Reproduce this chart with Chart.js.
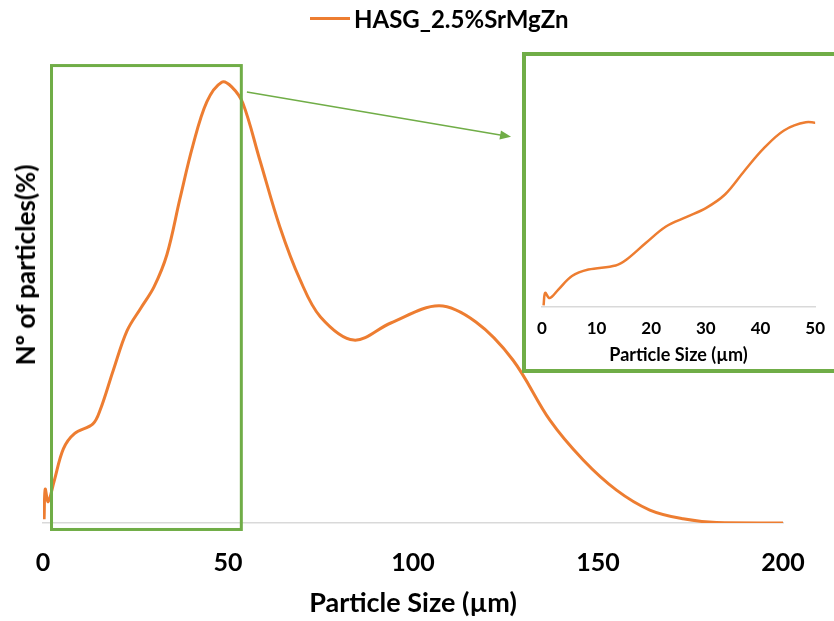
<!DOCTYPE html>
<html>
<head>
<meta charset="utf-8">
<script src="https://cdn.jsdelivr.net/npm/chart.js@4.4.1/dist/chart.umd.min.js"></script>
<style>
  html, body { margin: 0; padding: 0; background: #fff; overflow: hidden; }
  #wrap { position: relative; width: 834px; height: 621px; font-family: Lato, "Open Sans", sans-serif; }
  #main { position: absolute; left: 0; top: 0; }
  #legend { position: absolute; left: 310px; top: 3px; height: 30px; display: flex; align-items: center;
    font-weight: bold; font-size: 24px; color: #000; white-space: nowrap; }
  #legend .swatch { width: 40px; height: 3px; background: #ed7d31; margin-right: 4px; }
  #ytitle { position: absolute; left: 25px; top: 265px; transform: translate(-50%, -50%) rotate(-90deg);
    font-weight: bold; font-size: 26px; color: #000; white-space: nowrap; }
  #insetBox { position: absolute; left: 522px; top: 52px; width: 320px; height: 313px;
    border: 4px solid #70ad47; background: #fff; }
  #inset { position: absolute; left: 0; top: 0; }
</style>
</head>
<body>
<div id="wrap">
  <canvas id="main" width="834" height="621"></canvas>
  <div id="legend"><span class="swatch"></span><span>HASG_2.5%SrMgZn</span></div>
  <div id="ytitle">Nº of particles(%)</div>
  <div id="insetBox"><canvas id="inset" width="310" height="313"></canvas></div>
</div>
<script>
// particle size distribution
const sizes = [0.3, 0.6, 1.4, 3, 5.5, 8.5, 13.5, 15.5, 19, 22.7, 26.5, 30, 33.5, 37, 40.5, 44.3, 48.3, 51, 54, 58.6,
  64, 69.5, 75, 84, 94, 107, 117, 127, 137, 146, 155, 164, 173, 182, 200];
const percents = [0.8, 7.3, 4.6, 9, 16, 19.3, 21.4, 24.5, 33, 41.5, 46.5, 51, 58, 70, 81.5, 91, 95.2, 94.2, 90.7, 78.4,
  64, 52.5, 44.5, 39.5, 43.2, 46.9, 43.4, 35.2, 22.2, 13.6, 7.1, 2.8, 0.9, 0.1, 0];
const seriesName = 'HASG_2.5%SrMgZn';
const mainTicks = [0, 50, 100, 150, 200];
const insetTicks = [0, 10, 20, 30, 40, 50];

const orange = '#ed7d31';
const green = '#70ad47';
const axisFont = { family: 'Lato', weight: 'bold' };

// zoom window (in data units) and the arrow pointing to the inset
const zoomBox = { xFrom: 2.3, xTo: 53.6, yFrom: -1.4, yTo: 98.8 };
const arrow = { x1: 55.1, y1: 93.1, x2: 126.5, y2: 83.4 };

const points = sizes.map((s, i) => ({ x: s, y: percents[i] }));

const zoomMarks = {
    id: 'zoomMarks',
    afterDatasetsDraw(chart) {
        const { ctx, scales: { x, y } } = chart;
        ctx.save();
        ctx.strokeStyle = green;
        ctx.lineWidth = 3;
        const l = x.getPixelForValue(zoomBox.xFrom), r = x.getPixelForValue(zoomBox.xTo);
        const t = y.getPixelForValue(zoomBox.yTo), b = y.getPixelForValue(zoomBox.yFrom);
        ctx.strokeRect(l, t, r - l, b - t);

        const ax = x.getPixelForValue(arrow.x1), ay = y.getPixelForValue(arrow.y1);
        const bx = x.getPixelForValue(arrow.x2), by = y.getPixelForValue(arrow.y2);
        const ang = Math.atan2(by - ay, bx - ax);
        ctx.lineWidth = 1.5;
        ctx.beginPath();
        ctx.moveTo(ax, ay);
        ctx.lineTo(bx - 8 * Math.cos(ang), by - 8 * Math.sin(ang));
        ctx.stroke();
        ctx.fillStyle = green;
        ctx.beginPath();
        ctx.moveTo(bx, by);
        ctx.lineTo(bx - 11 * Math.cos(ang) + 4.5 * Math.sin(ang), by - 11 * Math.sin(ang) - 4.5 * Math.cos(ang));
        ctx.lineTo(bx - 11 * Math.cos(ang) - 4.5 * Math.sin(ang), by - 11 * Math.sin(ang) + 4.5 * Math.cos(ang));
        ctx.closePath();
        ctx.fill();
        ctx.restore();
    }
};

new Chart(document.getElementById('main'), {
    type: 'line',
    data: {
        datasets: [{
            label: seriesName,
            data: points,
            borderColor: orange,
            borderWidth: 3,
            pointRadius: 0,
            tension: 0.35,
            fill: false
        }]
    },
    options: {
        responsive: false,
        animation: false,
        layout: { padding: { left: 43, right: 51, top: 60, bottom: 0 } },
        plugins: { legend: { display: false }, tooltip: { enabled: false } },
        scales: {
            x: {
                type: 'linear',
                min: 0, max: 200,
                afterBuildTicks: (s) => { s.ticks = mainTicks.map(v => ({ value: v })); },
                afterFit: (s) => { s.height = 98; },
                grid: { display: false, drawTicks: false },
                border: { display: true, color: '#d9d9d9', width: 1.5 },
                ticks: { color: '#000', padding: 25, font: { ...axisFont, size: 25 } },
                title: { display: true, text: 'Particle Size (µm)', color: '#000',
                    padding: { top: 0, bottom: 2 }, font: { ...axisFont, size: 27 } }
            },
            y: { display: false, min: 0, max: 100 }
        }
    },
    plugins: [zoomMarks]
});

new Chart(document.getElementById('inset'), {
    type: 'line',
    data: {
        datasets: [{
            label: seriesName,
            data: points.filter(p => p.x <= 55),
            borderColor: orange,
            borderWidth: 2.5,
            pointRadius: 0,
            tension: 0.35,
            fill: false
        }]
    },
    options: {
        responsive: false,
        animation: false,
        layout: { padding: { left: 14, right: 11, top: 57, bottom: 0 } },
        plugins: { legend: { display: false }, tooltip: { enabled: false } },
        scales: {
            x: {
                type: 'linear',
                min: 0, max: 50,
                afterBuildTicks: (s) => { s.ticks = insetTicks.map(v => ({ value: v })); },
                afterFit: (s) => { s.height = 62; },
                grid: { display: false, drawTicks: false },
                border: { display: true, color: '#d9d9d9', width: 1.5 },
                ticks: { color: '#000', padding: 11, font: { ...axisFont, size: 17 } },
                title: { display: true, text: 'Particle Size (µm)', color: '#000',
                    padding: { top: 0, bottom: 3 }, font: { ...axisFont, size: 18 } }
            },
            y: { display: false, min: 0, max: 100 }
        }
    }
});
</script>
</body>
</html>
